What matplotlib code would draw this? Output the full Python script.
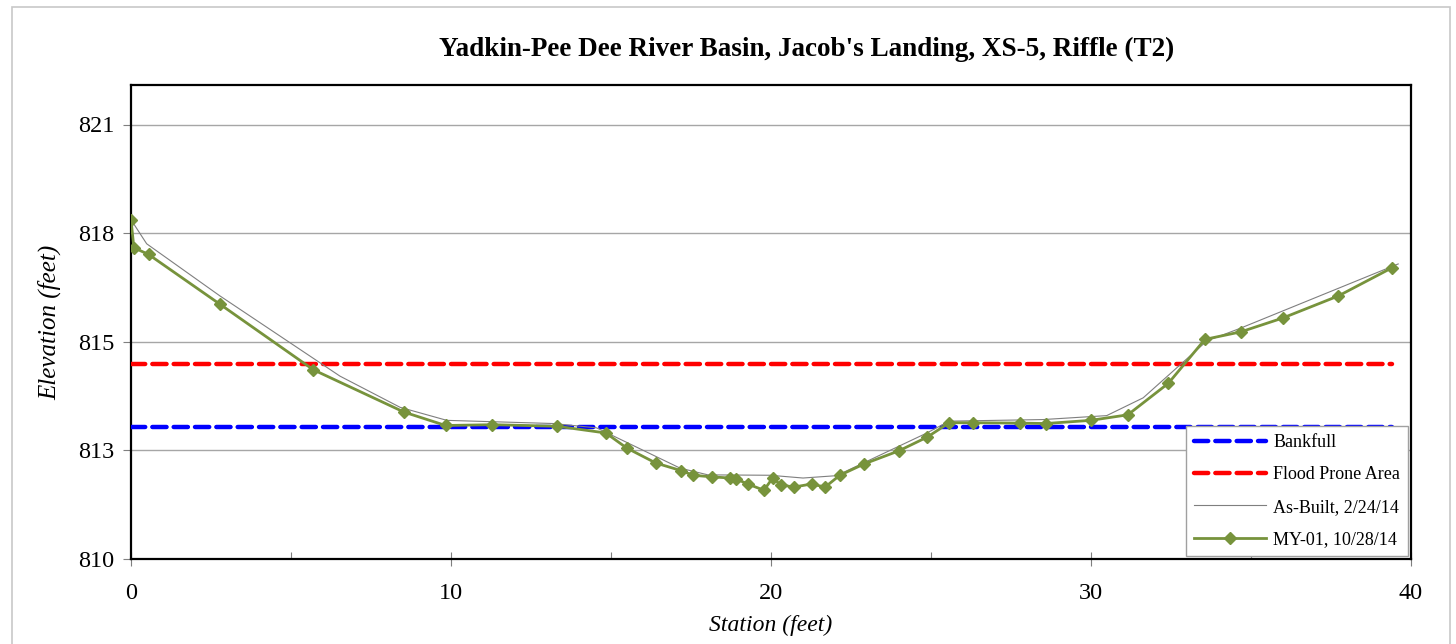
import matplotlib
matplotlib.use("Agg")
import matplotlib.pyplot as plt
from matplotlib.patches import Rectangle
from matplotlib.ticker import FixedLocator, FixedFormatter

plt.rcParams['font.family'] = ['Liberation Serif', 'DejaVu Serif']

title = "Yadkin-Pee Dee River Basin, Jacob's Landing, XS-5, Riffle (T2)"

# Monitoring survey MY-01, 10/28/14
my01_station = [0.00, 0.09, 0.55, 2.78, 5.70, 8.53, 9.83, 11.29, 13.32, 14.84,
                15.49, 16.40, 17.18, 17.57, 18.15, 18.72, 18.90, 19.27, 19.78, 20.05,
                20.30, 20.71, 21.27, 21.69, 22.15, 22.92, 24.00, 24.89, 25.57, 26.30,
                27.78, 28.59, 29.99, 31.15, 32.42, 33.56, 34.68, 35.99, 37.73, 39.40]
my01_elev = [818.59, 817.88, 817.71, 816.45, 814.79, 813.72, 813.38, 813.40, 813.36, 813.19,
             812.81, 812.43, 812.24, 812.12, 812.08, 812.05, 812.03, 811.90, 811.74, 812.05,
             811.88, 811.82, 811.90, 811.82, 812.12, 812.41, 812.74, 813.09, 813.45, 813.45,
             813.44, 813.43, 813.51, 813.65, 814.45, 815.56, 815.75, 816.10, 816.66, 817.37]

# As-built survey, 2/24/14
asbuilt_station = [0.00, 0.49, 2.78, 6.53, 8.41, 9.87, 13.19, 14.55, 17.16, 18.03,
                   19.97, 21.00, 22.05, 24.87, 25.57, 28.50, 30.49, 31.63, 33.62, 34.66,
                   39.60]
asbuilt_elev = [818.59, 817.98, 816.66, 814.63, 813.84, 813.51, 813.43, 813.32, 812.30, 812.13,
                812.12, 812.05, 812.11, 813.19, 813.49, 813.53, 813.63, 814.08, 815.52, 815.84,
                817.47]

# Reference elevations
bankfull_station = [0.0, 39.4]
bankfull_elev = [813.34, 813.34]
floodprone_station = [0.0, 39.4]
floodprone_elev = [814.93, 814.93]

y_ticks = [810.0, 812.75, 815.5, 818.25, 821.0]
y_tick_labels = ["810", "813", "815", "818", "821"]
x_ticks = [0, 10, 20, 30, 40]
x_minor_ticks = [5, 15, 25, 35]

W, H = 1456, 644
fig = plt.figure(figsize=(W / 100, H / 100), dpi=100)

# chart-area border
fig.patches.append(Rectangle((12 / W, -0.01), (1450 - 12) / W, (H - 7) / H + 0.01,
                             transform=fig.transFigure, fill=False,
                             edgecolor='#c8c8c8', linewidth=1.2))

left, right, top, bottom = 131, 1411, 85, 559
ax = fig.add_axes([left / W, 1 - bottom / H, (right - left) / W, (bottom - top) / H])

bf, = ax.plot(bankfull_station, bankfull_elev, color='#0000ff', lw=3.2,
              linestyle=(0, (3.2, 1.6)), dash_capstyle='round', label='Bankfull', zorder=3)
fp, = ax.plot(floodprone_station, floodprone_elev, color='#ff0000', lw=3.2,
              linestyle=(0, (3.2, 1.6)), dash_capstyle='round', label='Flood Prone Area', zorder=3)
ab, = ax.plot(asbuilt_station, asbuilt_elev, color='#7f7f7f', lw=0.8,
              label='As-Built, 2/24/14', zorder=4)
my, = ax.plot(my01_station, my01_elev, color='#77933c', lw=2.0, marker='D',
              markersize=6.5, markeredgecolor='#77933c', label='MY-01, 10/28/14', zorder=5)

ax.set_xlim(0, 40)
ax.set_ylim(810, 822)
ax.xaxis.set_major_locator(FixedLocator(x_ticks))
ax.xaxis.set_minor_locator(FixedLocator(x_minor_ticks))
ax.yaxis.set_major_locator(FixedLocator(y_ticks))
ax.yaxis.set_major_formatter(FixedFormatter(y_tick_labels))

ax.grid(axis='y', which='major', color='#a6a6a6', lw=1.0)
ax.set_axisbelow(True)
for s in ax.spines.values():
    s.set_linewidth(1.6)
    s.set_color('black')

ax.tick_params(axis='x', which='major', direction='inout', length=10, width=0.8,
               labelsize=17.5, pad=12, colors='#7f7f7f', labelcolor='black')
ax.tick_params(axis='x', which='minor', direction='in', length=5, width=0.8, colors='#7f7f7f')
ax.tick_params(axis='y', which='major', direction='out', length=6, width=0.8,
               labelsize=17.5, pad=6, colors='#7f7f7f', labelcolor='black')

ax.set_xlabel('Station (feet)', fontsize=17, fontstyle='italic', labelpad=8)
ax.set_ylabel('Elevation (feet)', fontsize=18, fontstyle='italic', labelpad=12)

fig.text(807 / W, 1 - 49 / H, title, ha='center', va='center',
         fontsize=19.5, fontweight='bold')

leg = ax.legend(handles=[bf, fp, ab, my], loc='lower right', bbox_to_anchor=(0.998, 0.006),
                fontsize=13, frameon=True, fancybox=False, framealpha=1,
                edgecolor='#a0a0a0', handlelength=4.0, handletextpad=0.4,
                labelspacing=0.85, borderpad=0.45, borderaxespad=0,
                numpoints=1)
leg.get_frame().set_linewidth(1.0)
leg.set_zorder(10)

fig.savefig('out.png', dpi=100)
